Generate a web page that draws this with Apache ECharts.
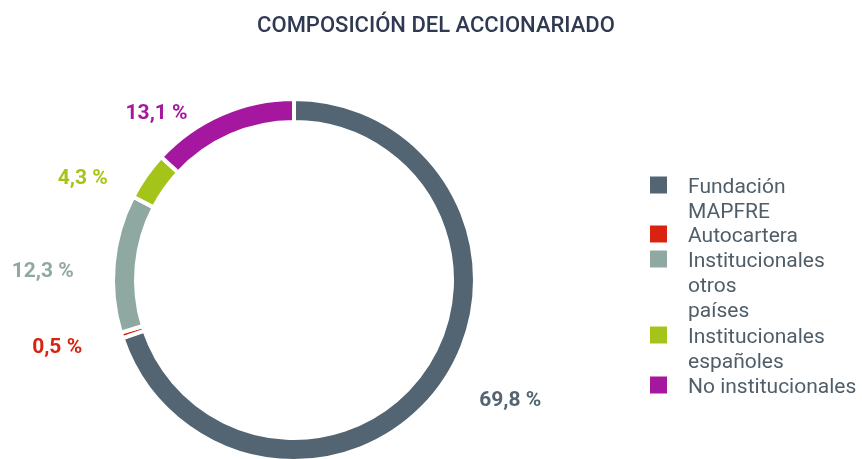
<!DOCTYPE html>
<html>
<head>
<meta charset="utf-8">
<script src="https://cdn.jsdelivr.net/npm/echarts@6/dist/echarts.min.js"></script>
<style>html,body{margin:0;padding:0;background:#fff;}#c{width:862px;height:459px;}</style>
</head>
<body>
<div id="c"></div>
<script>
var titleText = 'COMPOSICIÓN DEL ACCIONARIADO';
var categories = ['Fundación MAPFRE', 'Autocartera', 'Institucionales otros países', 'Institucionales españoles', 'No institucionales'];
var legendLabels = ['Fundación\nMAPFRE', 'Autocartera', 'Institucionales\notros\npaíses', 'Institucionales\nespañoles', 'No institucionales'];
var values = [69.8, 0.5, 12.3, 4.3, 13.1];
var valueLabels = ['69,8 %', '0,5 %', '12,3 %', '4,3 %', '13,1 %'];
var colors = ['#536572', '#d9220f', '#8fa8a2', '#a5c41a', '#a5179e'];

var chart = echarts.init(document.getElementById('c'), null, {renderer: 'canvas'});
var FONT = 'Roboto';
var LH = 25;
var iconCenters = [185, 234, 259, 335, 385];
var legends = categories.map(function (name, i) {
  var lines = legendLabels[i].split('\n');
  var n = lines.length;
  var out = [];
  for (var k = 0; k < n - 1; k++) out.push('{g|}');
  lines.forEach(function (l) { out.push('{g|}{t|' + l + '}'); });
  var txt = out.join('\n');
  return {
    orient: 'vertical',
    left: 650,
    top: iconCenters[i] - (2 * n - 1) * LH / 2,
    padding: 0,
    itemWidth: 17,
    itemHeight: 17,
    icon: 'rect',
    selectedMode: false,
    itemStyle: {borderWidth: 0},
    data: [{name: name}],
    formatter: function () { return txt; },
    textStyle: {
      fontFamily: FONT,
      fontSize: 21,
      color: '#4f5e69',
      lineHeight: LH,
      rich: {
        g: {width: 16, height: LH, lineHeight: LH},
        t: {fontFamily: FONT, fontSize: 21, color: '#4f5e69', lineHeight: LH, verticalAlign: 'bottom', height: 19}
      }
    }
  };
});

chart.setOption({
  animation: false,
  color: colors,
  title: {
    text: titleText,
    left: 431,
    textAlign: 'center',
    top: 10,
    textStyle: {fontFamily: FONT, fontSize: 22, fontWeight: 500, color: '#2f3a52'}
  },
  legend: legends,
  series: [{
    type: 'pie',
    center: [294, 280],
    radius: [158, 181],
    startAngle: 90,
    clockwise: true,
    avoidLabelOverlap: false,
    silent: true,
    itemStyle: {borderColor: '#ffffff', borderWidth: 4},
    label: {
      show: true,
      position: 'outside',
      fontFamily: FONT,
      fontSize: 21,
      fontWeight: 'bold',
      formatter: function (p) { return valueLabels[p.dataIndex]; }
    },
    labelLine: {show: false, length: 10, length2: 25},
    labelLayout: function () { return {dy: 9}; },
    data: categories.map(function (n, i) {
      return {name: n, value: values[i], label: {color: colors[i]}};
    })
  }]
});
</script>
</body>
</html>
